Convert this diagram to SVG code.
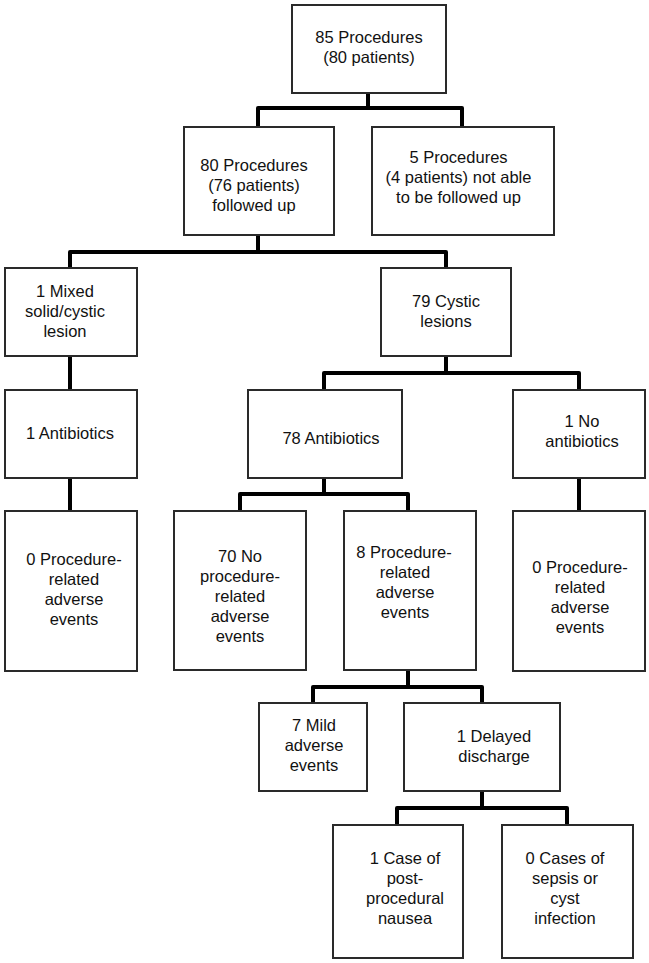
<svg xmlns="http://www.w3.org/2000/svg" width="649" height="963" viewBox="0 0 649 963">
<style>
.box{fill:#fff;stroke:#2a2a2a;stroke-width:2}
.conn{fill:none;stroke:#000;stroke-width:4;stroke-linejoin:round}
text{font-family:"Liberation Sans",Arial,Helvetica,sans-serif;font-size:16.5px;fill:#111;text-anchor:middle}
</style>
<rect width="649" height="963" fill="#fff"/>
<g id="connectors">
<path class="conn" d="M368,93V108M258,127V108H462V127"/>
<path class="conn" d="M258,235V252M70,268V252H446V268"/>
<path class="conn" d="M70,356V390"/>
<path class="conn" d="M446,356V373M324,390V373H579V390"/>
<path class="conn" d="M70,478V511"/>
<path class="conn" d="M324,478V494M240,511V494H408V511"/>
<path class="conn" d="M579,478V511"/>
<path class="conn" d="M408,670V687M313,703V687H482V703"/>
<path class="conn" d="M482,791V808M397,825V808H567V825"/>
</g>
<g id="n85">
<rect class="box" x="292" y="5" width="154" height="88"/>
<text x="369" y="42.5">85 Procedures</text>
<text x="369" y="62.5">(80 patients)</text>
</g>
<g id="n80">
<rect class="box" x="184" y="127" width="150" height="108"/>
<text x="254" y="171">80 Procedures</text>
<text x="254" y="191">(76 patients)</text>
<text x="254" y="211">followed up</text>
</g>
<g id="n5">
<rect class="box" x="372" y="127" width="182" height="108"/>
<text x="458.5" y="162.5">5 Procedures</text>
<text x="458.5" y="182.5">(4 patients) not able</text>
<text x="458.5" y="202.5">to be followed up</text>
</g>
<g id="mixed">
<rect class="box" x="5" y="268" width="132" height="88"/>
<text x="65" y="297">1 Mixed</text>
<text x="65" y="317">solid/cystic</text>
<text x="65" y="337">lesion</text>
</g>
<g id="cystic">
<rect class="box" x="381" y="268" width="130" height="88"/>
<text x="446" y="307">79 Cystic</text>
<text x="446" y="327">lesions</text>
</g>
<g id="ab1">
<rect class="box" x="5" y="390" width="132" height="88"/>
<text x="70" y="438.5">1 Antibiotics</text>
</g>
<g id="ab78">
<rect class="box" x="248" y="390" width="154" height="88"/>
<text x="331" y="444">78 Antibiotics</text>
</g>
<g id="noab">
<rect class="box" x="513" y="390" width="132" height="88"/>
<text x="582" y="426.5">1 No</text>
<text x="582" y="446.5">antibiotics</text>
</g>
<g id="ae0left">
<rect class="box" x="5" y="511" width="132" height="160"/>
<text x="74" y="565">0 Procedure-</text>
<text x="74" y="585">related</text>
<text x="74" y="605">adverse</text>
<text x="74" y="625">events</text>
</g>
<g id="no70">
<rect class="box" x="174" y="511" width="132" height="159"/>
<text x="240" y="561.5">70 No</text>
<text x="240" y="581.5">procedure-</text>
<text x="240" y="601.5">related</text>
<text x="240" y="621.5">adverse</text>
<text x="240" y="641.5">events</text>
</g>
<g id="ae8">
<rect class="box" x="344" y="511" width="132" height="159"/>
<text x="404" y="557.5">8 Procedure-</text>
<text x="405" y="577.5">related</text>
<text x="405" y="597.5">adverse</text>
<text x="405" y="617.5">events</text>
</g>
<g id="ae0right">
<rect class="box" x="513" y="511" width="132" height="160"/>
<text x="580" y="572.5">0 Procedure-</text>
<text x="580" y="592.5">related</text>
<text x="580" y="612.5">adverse</text>
<text x="580" y="632.5">events</text>
</g>
<g id="mild7">
<rect class="box" x="259" y="703" width="108" height="88"/>
<text x="314" y="730.5">7 Mild</text>
<text x="314" y="750.5">adverse</text>
<text x="314" y="770.5">events</text>
</g>
<g id="delayed">
<rect class="box" x="404" y="703" width="156" height="88"/>
<text x="494" y="742">1 Delayed</text>
<text x="494" y="761.5">discharge</text>
</g>
<g id="case1">
<rect class="box" x="333" y="825" width="130" height="133"/>
<text x="405" y="864">1 Case of</text>
<text x="405" y="884">post-</text>
<text x="405" y="904">procedural</text>
<text x="405" y="924">nausea</text>
</g>
<g id="cases0">
<rect class="box" x="502" y="825" width="131" height="133"/>
<text x="565" y="864">0 Cases of</text>
<text x="565" y="884">sepsis or</text>
<text x="565" y="904">cyst</text>
<text x="565" y="924">infection</text>
</g>
</svg>
